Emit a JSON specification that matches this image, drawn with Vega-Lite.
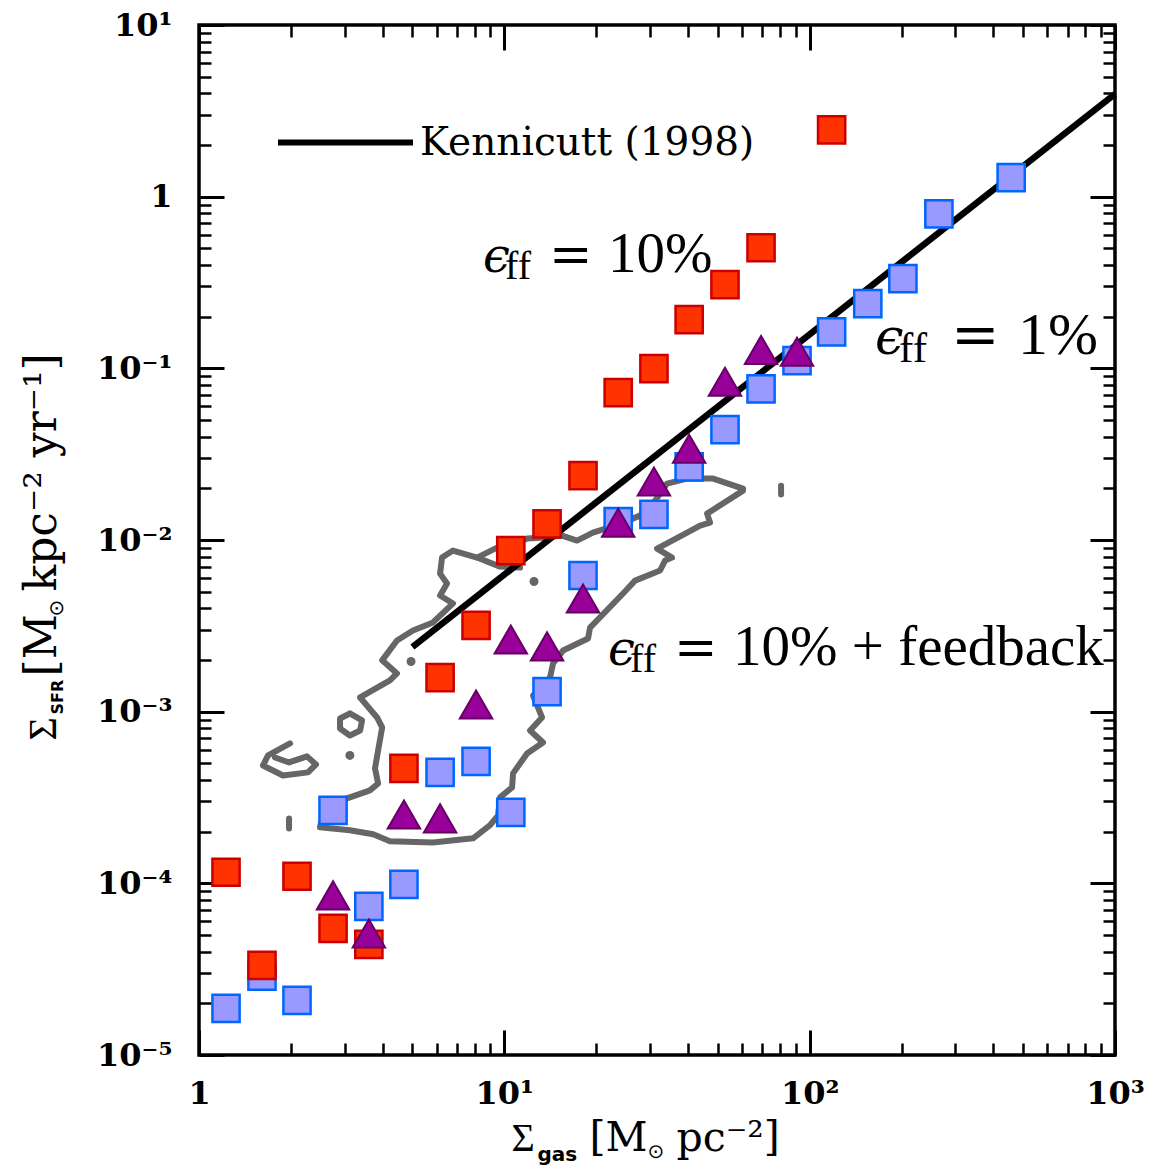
{
  "$schema": "https://vega.github.io/schema/vega-lite/v6.json",
  "width": 916,
  "height": 1030,
  "autosize": {"type": "none"},
  "padding": {"left": 199, "top": 25, "right": 45, "bottom": 112},
  "background": "white",
  "config": {
    "view": {"stroke": "black", "strokeWidth": 3.5},
    "axis": {"domain": false, "grid": false, "tickColor": "black", "labelColor": "black", "titleColor": "black"}
  },
  "datasets": {
    "contour": [
      {"piece": "main", "i": 1, "sgas": 60.5, "ssfr": 0.0199},
      {"piece": "main", "i": 2, "sgas": 48.3, "ssfr": 0.02278},
      {"piece": "main", "i": 3, "sgas": 39.7, "ssfr": 0.02278},
      {"piece": "main", "i": 4, "sgas": 34.1, "ssfr": 0.0213},
      {"piece": "main", "i": 5, "sgas": 31.2, "ssfr": 0.01696},
      {"piece": "main", "i": 6, "sgas": 27.8, "ssfr": 0.01387},
      {"piece": "main", "i": 7, "sgas": 23.6, "ssfr": 0.01229},
      {"piece": "main", "i": 8, "sgas": 19.5, "ssfr": 0.01104},
      {"piece": "main", "i": 9, "sgas": 17.3, "ssfr": 0.00992},
      {"piece": "main", "i": 10, "sgas": 15.45, "ssfr": 0.01061},
      {"piece": "main", "i": 11, "sgas": 13.6, "ssfr": 0.01033},
      {"piece": "main", "i": 12, "sgas": 11.87, "ssfr": 0.01019},
      {"piece": "main", "i": 13, "sgas": 10.6, "ssfr": 0.00928},
      {"piece": "main", "i": 14, "sgas": 9.465, "ssfr": 0.00903},
      {"piece": "main", "i": 15, "sgas": 8.14, "ssfr": 0.0079},
      {"piece": "main", "i": 16, "sgas": 6.79, "ssfr": 0.00868},
      {"piece": "main", "i": 17, "sgas": 6.25, "ssfr": 0.0079},
      {"piece": "main", "i": 18, "sgas": 6.16, "ssfr": 0.00637},
      {"piece": "main", "i": 19, "sgas": 6.49, "ssfr": 0.00558},
      {"piece": "main", "i": 20, "sgas": 6.16, "ssfr": 0.00475},
      {"piece": "main", "i": 21, "sgas": 6.79, "ssfr": 0.00427},
      {"piece": "main", "i": 22, "sgas": 5.84, "ssfr": 0.00331},
      {"piece": "main", "i": 23, "sgas": 5.02, "ssfr": 0.00297},
      {"piece": "main", "i": 24, "sgas": 4.45, "ssfr": 0.0026},
      {"piece": "main", "i": 25, "sgas": 3.98, "ssfr": 0.00199},
      {"piece": "main", "i": 26, "sgas": 4.45, "ssfr": 0.00167},
      {"piece": "main", "i": 27, "sgas": 4.22, "ssfr": 0.00152},
      {"piece": "main", "i": 28, "sgas": 3.37, "ssfr": 0.00121},
      {"piece": "main", "i": 29, "sgas": 3.83, "ssfr": 0.000925},
      {"piece": "main", "i": 30, "sgas": 3.98, "ssfr": 0.000809},
      {"piece": "main", "i": 31, "sgas": 3.86, "ssfr": 0.000594},
      {"piece": "main", "i": 32, "sgas": 3.77, "ssfr": 0.000467},
      {"piece": "main", "i": 33, "sgas": 3.86, "ssfr": 0.000382},
      {"piece": "main", "i": 34, "sgas": 3.63, "ssfr": 0.000348},
      {"piece": "main", "i": 35, "sgas": 3.12, "ssfr": 0.000317},
      {"piece": "main", "i": 36, "sgas": 2.59, "ssfr": 0.000284},
      {"piece": "main", "i": 37, "sgas": 2.49, "ssfr": 0.000212},
      {"piece": "main", "i": 38, "sgas": 3.12, "ssfr": 0.000204},
      {"piece": "main", "i": 39, "sgas": 3.72, "ssfr": 0.000193},
      {"piece": "main", "i": 40, "sgas": 4.22, "ssfr": 0.000176},
      {"piece": "main", "i": 41, "sgas": 5.84, "ssfr": 0.000173},
      {"piece": "main", "i": 42, "sgas": 7.9, "ssfr": 0.000183},
      {"piece": "main", "i": 43, "sgas": 8.98, "ssfr": 0.000218},
      {"piece": "main", "i": 44, "sgas": 9.54, "ssfr": 0.000249},
      {"piece": "main", "i": 45, "sgas": 9.68, "ssfr": 0.000317},
      {"piece": "main", "i": 46, "sgas": 10.6, "ssfr": 0.000362},
      {"piece": "main", "i": 47, "sgas": 10.68, "ssfr": 0.000437},
      {"piece": "main", "i": 48, "sgas": 11.87, "ssfr": 0.000571},
      {"piece": "main", "i": 49, "sgas": 13.39, "ssfr": 0.000662},
      {"piece": "main", "i": 50, "sgas": 12.14, "ssfr": 0.000777},
      {"piece": "main", "i": 51, "sgas": 13.29, "ssfr": 0.000925},
      {"piece": "main", "i": 52, "sgas": 12.42, "ssfr": 0.00124},
      {"piece": "main", "i": 53, "sgas": 14.11, "ssfr": 0.00158},
      {"piece": "main", "i": 54, "sgas": 14.44, "ssfr": 0.00191},
      {"piece": "main", "i": 55, "sgas": 15.57, "ssfr": 0.00227},
      {"piece": "main", "i": 56, "sgas": 18.8, "ssfr": 0.00267},
      {"piece": "main", "i": 57, "sgas": 19.09, "ssfr": 0.00309},
      {"piece": "main", "i": 58, "sgas": 24.48, "ssfr": 0.00488},
      {"piece": "main", "i": 59, "sgas": 26.8, "ssfr": 0.0058},
      {"piece": "main", "i": 60, "sgas": 32.36, "ssfr": 0.00664},
      {"piece": "main", "i": 61, "sgas": 33.6, "ssfr": 0.00759},
      {"piece": "main", "i": 62, "sgas": 35.42, "ssfr": 0.0079},
      {"piece": "main", "i": 63, "sgas": 31.64, "ssfr": 0.00891},
      {"piece": "main", "i": 64, "sgas": 39.7, "ssfr": 0.01104},
      {"piece": "main", "i": 65, "sgas": 43.75, "ssfr": 0.01213},
      {"piece": "main", "i": 66, "sgas": 47.19, "ssfr": 0.01263},
      {"piece": "main", "i": 67, "sgas": 46.13, "ssfr": 0.01424},
      {"piece": "main", "i": 68, "sgas": 60.5, "ssfr": 0.01939},
      {"piece": "main", "i": 69, "sgas": 60.5, "ssfr": 0.0199},
      {"piece": "spur", "i": 1, "sgas": 8.14, "ssfr": 0.0079},
      {"piece": "spur", "i": 2, "sgas": 9.68, "ssfr": 0.007},
      {"piece": "spur", "i": 3, "sgas": 11.26, "ssfr": 0.00691},
      {"piece": "hook", "i": 1, "sgas": 1.987, "ssfr": 0.000653},
      {"piece": "hook", "i": 2, "sgas": 1.683, "ssfr": 0.000556},
      {"piece": "hook", "i": 3, "sgas": 1.62, "ssfr": 0.000486},
      {"piece": "hook", "i": 4, "sgas": 1.884, "ssfr": 0.000425},
      {"piece": "hook", "i": 5, "sgas": 2.275, "ssfr": 0.000443},
      {"piece": "hook", "i": 6, "sgas": 2.416, "ssfr": 0.000493},
      {"piece": "hook", "i": 7, "sgas": 2.258, "ssfr": 0.000549},
      {"piece": "hook", "i": 8, "sgas": 1.972, "ssfr": 0.000506},
      {"piece": "hook", "i": 9, "sgas": 1.774, "ssfr": 0.000541},
      {"piece": "loop", "i": 1, "sgas": 3.12, "ssfr": 0.000976},
      {"piece": "loop", "i": 2, "sgas": 3.42, "ssfr": 0.000889},
      {"piece": "loop", "i": 3, "sgas": 3.37, "ssfr": 0.000777},
      {"piece": "loop", "i": 4, "sgas": 3.12, "ssfr": 0.000727},
      {"piece": "loop", "i": 5, "sgas": 2.896, "ssfr": 0.000798},
      {"piece": "loop", "i": 6, "sgas": 2.896, "ssfr": 0.000913},
      {"piece": "loop", "i": 7, "sgas": 3.12, "ssfr": 0.000976},
      {"piece": "tickA", "i": 1, "sgas": 1.972, "ssfr": 0.000239},
      {"piece": "tickA", "i": 2, "sgas": 1.972, "ssfr": 0.000209},
      {"piece": "tickB", "i": 1, "sgas": 80.6, "ssfr": 0.02073},
      {"piece": "tickB", "i": 2, "sgas": 80.6, "ssfr": 0.01838}
    ],
    "blobs": [
      {"sgas": 3.12, "ssfr": 0.000556},
      {"sgas": 4.948, "ssfr": 0.00196},
      {"sgas": 12.51, "ssfr": 0.00573}
    ],
    "kennicutt": [
      {"name": "Kennicutt (1998)", "sgas": 5, "ssfr": 0.00238},
      {"name": "Kennicutt (1998)", "sgas": 1000, "ssfr": 3.96}
    ],
    "runs": [
      {"run": "eff10", "sgas": 1.226, "ssfr": 0.000116},
      {"run": "eff10", "sgas": 1.608, "ssfr": 0.0000333},
      {"run": "eff10", "sgas": 2.094, "ssfr": 0.00011},
      {"run": "eff10", "sgas": 2.748, "ssfr": 0.0000547},
      {"run": "eff10", "sgas": 3.6, "ssfr": 0.0000441},
      {"run": "eff10", "sgas": 4.69, "ssfr": 0.000467},
      {"run": "eff10", "sgas": 6.16, "ssfr": 0.00158},
      {"run": "eff10", "sgas": 8.08, "ssfr": 0.00318},
      {"run": "eff10", "sgas": 10.5, "ssfr": 0.00867},
      {"run": "eff10", "sgas": 13.8, "ssfr": 0.0124},
      {"run": "eff10", "sgas": 18.1, "ssfr": 0.0237},
      {"run": "eff10", "sgas": 23.6, "ssfr": 0.0721},
      {"run": "eff10", "sgas": 30.9, "ssfr": 0.0995},
      {"run": "eff10", "sgas": 40.3, "ssfr": 0.192},
      {"run": "eff10", "sgas": 52.8, "ssfr": 0.307},
      {"run": "eff10", "sgas": 69.3, "ssfr": 0.504},
      {"run": "eff10", "sgas": 118, "ssfr": 2.45},
      {"run": "eff1", "sgas": 1.226, "ssfr": 0.0000187},
      {"run": "eff1", "sgas": 1.608, "ssfr": 0.0000288},
      {"run": "eff1", "sgas": 2.094, "ssfr": 0.0000208},
      {"run": "eff1", "sgas": 2.748, "ssfr": 0.000266},
      {"run": "eff1", "sgas": 3.6, "ssfr": 0.0000735},
      {"run": "eff1", "sgas": 4.69, "ssfr": 0.0000986},
      {"run": "eff1", "sgas": 6.16, "ssfr": 0.000443},
      {"run": "eff1", "sgas": 8.08, "ssfr": 0.000513},
      {"run": "eff1", "sgas": 10.5, "ssfr": 0.000259},
      {"run": "eff1", "sgas": 13.8, "ssfr": 0.00131},
      {"run": "eff1", "sgas": 18.1, "ssfr": 0.00621},
      {"run": "eff1", "sgas": 23.6, "ssfr": 0.0128},
      {"run": "eff1", "sgas": 30.9, "ssfr": 0.0141},
      {"run": "eff1", "sgas": 40.3, "ssfr": 0.0267},
      {"run": "eff1", "sgas": 52.8, "ssfr": 0.0439},
      {"run": "eff1", "sgas": 69.3, "ssfr": 0.076},
      {"run": "eff1", "sgas": 90.9, "ssfr": 0.111},
      {"run": "eff1", "sgas": 118, "ssfr": 0.163},
      {"run": "eff1", "sgas": 155, "ssfr": 0.238},
      {"run": "eff1", "sgas": 202, "ssfr": 0.333},
      {"run": "eff1", "sgas": 265, "ssfr": 0.794},
      {"run": "eff1", "sgas": 457, "ssfr": 1.29},
      {"run": "fb", "sgas": 2.748, "ssfr": 0.0000851},
      {"run": "fb", "sgas": 3.6, "ssfr": 0.000051},
      {"run": "fb", "sgas": 4.69, "ssfr": 0.000252},
      {"run": "fb", "sgas": 6.16, "ssfr": 0.000239},
      {"run": "fb", "sgas": 8.08, "ssfr": 0.0011},
      {"run": "fb", "sgas": 10.5, "ssfr": 0.00263},
      {"run": "fb", "sgas": 13.8, "ssfr": 0.0024},
      {"run": "fb", "sgas": 18.1, "ssfr": 0.00456},
      {"run": "fb", "sgas": 23.6, "ssfr": 0.0126},
      {"run": "fb", "sgas": 30.9, "ssfr": 0.0219},
      {"run": "fb", "sgas": 40.3, "ssfr": 0.034},
      {"run": "fb", "sgas": 52.8, "ssfr": 0.0835},
      {"run": "fb", "sgas": 69.3, "ssfr": 0.128},
      {"run": "fb", "sgas": 90.9, "ssfr": 0.125}
    ],
    "notes": [
      {"sgas": 8.516, "ssfr": 0.3636, "val": "10%"},
      {"sgas": 163.8, "ssfr": 0.121, "val": "1%"},
      {"sgas": 21.86, "ssfr": 0.001864, "val": "10% + feedback"}
    ]
  },
  "resolve": {"axis": {"x": "independent", "y": "independent"}},
  "layer": [
    {
      "data": {"name": "contour"},
      "mark": {"type": "line", "stroke": "#666666", "strokeWidth": 6, "strokeJoin": "round", "strokeCap": "round"},
      "encoding": {
        "x": {
          "field": "sgas", "type": "quantitative",
          "scale": {"type": "log", "domain": [1, 1000], "nice": false},
          "axis": {
            "orient": "bottom", "values": [1, 10, 100, 1000], "ticks": false,
            "labelExpr": "datum.value >= 500 ? '10³' : datum.value >= 50 ? '10²' : datum.value >= 5 ? '10¹' : '1'",
            "labelFont": "DejaVu Serif", "labelFontWeight": "bold", "labelFontSize": 32,
            "labelPadding": 23, "labelFlush": false, "labelOverlap": false, "labelBaseline": "top",
            "title": "Σ", "titleFont": "Liberation Serif", "titleFontSize": 40, "titleFontWeight": "normal",
            "titleX": 312, "titleY": 95, "titleAlign": "left", "titleBaseline": "alphabetic", "titleAngle": 0
          }
        },
        "y": {
          "field": "ssfr", "type": "quantitative",
          "scale": {"type": "log", "domain": [0.00001, 10], "nice": false},
          "axis": {
            "orient": "left", "values": [0.00001, 0.0001, 0.001, 0.01, 0.1, 1, 10], "ticks": false,
            "labelExpr": "datum.value >= 5 ? '10¹' : datum.value >= 0.5 ? '1' : datum.value >= 0.05 ? '10⁻¹' : datum.value >= 0.005 ? '10⁻²' : datum.value >= 0.0005 ? '10⁻³' : datum.value >= 0.00005 ? '10⁻⁴' : '10⁻⁵'",
            "labelFont": "DejaVu Serif", "labelFontWeight": "bold", "labelFontSize": 32,
            "labelPadding": 27, "labelAlign": "right", "labelBaseline": "middle", "labelFlush": false, "labelOverlap": false,
            "title": "Σ", "titleFont": "Liberation Serif", "titleFontSize": 40, "titleFontWeight": "normal",
            "titleX": -144, "titleY": 715, "titleAlign": "left", "titleBaseline": "alphabetic", "titleAngle": 270
          }
        },
        "detail": {"field": "piece", "type": "nominal"},
        "order": {"field": "i", "type": "quantitative"}
      }
    },
    {
      "data": {"name": "blobs"},
      "mark": {"type": "point", "shape": "circle", "filled": true, "fill": "#666666", "fillOpacity": 1, "size": 80, "strokeWidth": 0},
      "encoding": {
        "x": {"field": "sgas", "type": "quantitative", "scale": {"type": "log", "domain": [1, 1000], "nice": false}, "axis": null},
        "y": {"field": "ssfr", "type": "quantitative", "scale": {"type": "log", "domain": [0.00001, 10], "nice": false}, "axis": null}
      }
    },
    {
      "data": {"name": "kennicutt"},
      "mark": {"type": "line", "strokeWidth": 6.5, "strokeCap": "butt"},
      "encoding": {
        "x": {
          "field": "sgas", "type": "quantitative",
          "scale": {"type": "log", "domain": [1, 1000], "nice": false},
          "axis": {
            "orient": "bottom", "offset": -25, "values": [1, 10, 100, 1000], "labels": false,
            "tickSize": 25, "tickWidth": 3,
            "title": "gas", "titleFont": "DejaVu Sans", "titleFontSize": 20, "titleFontWeight": "bold",
            "titleX": 338, "titleY": 130, "titleAlign": "left", "titleBaseline": "alphabetic", "titleAngle": 0
          }
        },
        "y": {
          "field": "ssfr", "type": "quantitative",
          "scale": {"type": "log", "domain": [0.00001, 10], "nice": false},
          "axis": {
            "orient": "left", "offset": -25, "values": [0.00001, 0.0001, 0.001, 0.01, 0.1, 1, 10], "labels": false,
            "tickSize": 25, "tickWidth": 3,
            "title": "SFR", "titleFont": "DejaVu Sans", "titleFontSize": 16, "titleFontWeight": "bold",
            "titleX": -162, "titleY": 689, "titleAlign": "left", "titleBaseline": "alphabetic", "titleAngle": 270
          }
        },
        "color": {
          "field": "name", "type": "nominal",
          "scale": {"range": ["#000000"]},
          "legend": {
            "orient": "none", "legendX": 76, "legendY": 47, "title": null, "padding": 0,
            "symbolType": "stroke", "symbolSize": 18225, "symbolStrokeWidth": 6, "symbolStrokeColor": "black",
            "labelFont": "DejaVu Serif", "labelFontSize": 39, "labelColor": "black", "labelOffset": 4, "labelLimit": 600
          }
        }
      }
    },
    {
      "data": {"name": "runs"},
      "transform": [{"filter": "datum.run === 'eff1'"}],
      "mark": {"type": "point", "shape": "square", "size": 740, "filled": true, "fill": "#9999ff", "fillOpacity": 1, "stroke": "#0066ff", "strokeWidth": 2.5, "opacity": 1},
      "encoding": {
        "x": {
          "field": "sgas", "type": "quantitative",
          "scale": {"type": "log", "domain": [1, 1000], "nice": false},
          "axis": {
            "orient": "bottom", "offset": -12,
            "values": [2, 3, 4, 5, 6, 7, 8, 9, 20, 30, 40, 50, 60, 70, 80, 90, 200, 300, 400, 500, 600, 700, 800, 900],
            "labels": false, "tickSize": 12, "tickWidth": 2.5,
            "title": "[M", "titleFont": "DejaVu Serif", "titleFontSize": 41, "titleFontWeight": "normal",
            "titleX": 390, "titleY": 107, "titleAlign": "left", "titleBaseline": "alphabetic", "titleAngle": 0
          }
        },
        "y": {
          "field": "ssfr", "type": "quantitative",
          "scale": {"type": "log", "domain": [0.00001, 10], "nice": false},
          "axis": {
            "orient": "left", "offset": -12,
            "values": [0.00002, 0.00003, 0.00004, 0.00005, 0.00006, 0.00007, 0.00008, 0.00009, 0.0002, 0.0003, 0.0004, 0.0005, 0.0006, 0.0007, 0.0008, 0.0009, 0.002, 0.003, 0.004, 0.005, 0.006, 0.007, 0.008, 0.009, 0.02, 0.03, 0.04, 0.05, 0.06, 0.07, 0.08, 0.09, 0.2, 0.3, 0.4, 0.5, 0.6, 0.7, 0.8, 0.9, 2, 3, 4, 5, 6, 7, 8, 9],
            "labels": false, "tickSize": 12, "tickWidth": 2.5,
            "title": "[M", "titleFont": "DejaVu Serif", "titleFontSize": 44, "titleFontWeight": "normal",
            "titleX": -156, "titleY": 651, "titleAlign": "left", "titleBaseline": "alphabetic", "titleAngle": 270
          }
        }
      }
    },
    {
      "data": {"name": "runs"},
      "transform": [{"filter": "datum.run === 'eff10'"}],
      "mark": {"type": "point", "shape": "square", "size": 740, "filled": true, "fill": "#ff3300", "fillOpacity": 1, "stroke": "#cc0000", "strokeWidth": 2.5, "opacity": 1},
      "encoding": {
        "x": {
          "field": "sgas", "type": "quantitative",
          "scale": {"type": "log", "domain": [1, 1000], "nice": false},
          "axis": {
            "orient": "top", "offset": -25, "values": [1, 10, 100, 1000], "labels": false,
            "tickSize": 25, "tickWidth": 3,
            "title": "⊙", "titleFont": "DejaVu Sans", "titleFontSize": 20, "titleFontWeight": "normal",
            "titleX": 448, "titleY": 1107, "titleAlign": "left", "titleBaseline": "alphabetic", "titleAngle": 0
          }
        },
        "y": {
          "field": "ssfr", "type": "quantitative",
          "scale": {"type": "log", "domain": [0.00001, 10], "nice": false},
          "axis": {
            "orient": "right", "offset": -25, "values": [0.00001, 0.0001, 0.001, 0.01, 0.1, 1, 10], "labels": false,
            "tickSize": 25, "tickWidth": 3,
            "title": "⊙", "titleFont": "DejaVu Sans", "titleFontSize": 20, "titleFontWeight": "normal",
            "titleX": -1028, "titleY": 591, "titleAlign": "left", "titleBaseline": "alphabetic", "titleAngle": 270
          }
        }
      }
    },
    {
      "data": {"name": "runs"},
      "transform": [{"filter": "datum.run === 'fb'"}],
      "mark": {"type": "point", "shape": "triangle-up", "size": 1050, "filled": true, "fill": "#990099", "fillOpacity": 1, "stroke": "#660066", "strokeWidth": 2, "opacity": 1},
      "encoding": {
        "x": {
          "field": "sgas", "type": "quantitative",
          "scale": {"type": "log", "domain": [1, 1000], "nice": false},
          "axis": {
            "orient": "top", "offset": -12,
            "values": [2, 3, 4, 5, 6, 7, 8, 9, 20, 30, 40, 50, 60, 70, 80, 90, 200, 300, 400, 500, 600, 700, 800, 900],
            "labels": false, "tickSize": 12, "tickWidth": 2.5,
            "title": "pc⁻²]", "titleFont": "DejaVu Serif", "titleFontSize": 41, "titleFontWeight": "normal",
            "titleX": 477, "titleY": 1113, "titleAlign": "left", "titleBaseline": "alphabetic", "titleAngle": 0
          }
        },
        "y": {
          "field": "ssfr", "type": "quantitative",
          "scale": {"type": "log", "domain": [0.00001, 10], "nice": false},
          "axis": {
            "orient": "right", "offset": -12,
            "values": [0.00002, 0.00003, 0.00004, 0.00005, 0.00006, 0.00007, 0.00008, 0.00009, 0.0002, 0.0003, 0.0004, 0.0005, 0.0006, 0.0007, 0.0008, 0.0009, 0.002, 0.003, 0.004, 0.005, 0.006, 0.007, 0.008, 0.009, 0.02, 0.03, 0.04, 0.05, 0.06, 0.07, 0.08, 0.09, 0.2, 0.3, 0.4, 0.5, 0.6, 0.7, 0.8, 0.9, 2, 3, 4, 5, 6, 7, 8, 9],
            "labels": false, "tickSize": 12, "tickWidth": 2.5,
            "title": "kpc⁻² yr⁻¹]", "titleFont": "DejaVu Serif", "titleFontSize": 44, "titleFontWeight": "normal",
            "titleX": -1048, "titleY": 566, "titleAlign": "left", "titleBaseline": "alphabetic", "titleAngle": 270
          }
        }
      }
    },
    {
      "data": {"name": "notes"},
      "transform": [{"filter": "datum.val !== '1%'"}],
      "mark": {"type": "text", "text": "ϵ", "font": "DejaVu Serif", "fontStyle": "italic", "fontSize": 48, "align": "left", "baseline": "alphabetic", "color": "black"},
      "encoding": {
        "x": {"field": "sgas", "type": "quantitative", "scale": {"type": "log", "domain": [1, 1000], "nice": false}, "axis": null},
        "y": {"field": "ssfr", "type": "quantitative", "scale": {"type": "log", "domain": [0.00001, 10], "nice": false}, "axis": null}
      }
    },
    {
      "data": {"name": "notes"},
      "transform": [{"filter": "datum.val !== '1%'"}],
      "mark": {"type": "text", "text": "ff", "font": "Liberation Serif", "fontSize": 40, "align": "left", "baseline": "alphabetic", "dx": 22, "dy": 7, "color": "black"},
      "encoding": {
        "x": {"field": "sgas", "type": "quantitative", "scale": {"type": "log", "domain": [1, 1000], "nice": false}, "axis": null},
        "y": {"field": "ssfr", "type": "quantitative", "scale": {"type": "log", "domain": [0.00001, 10], "nice": false}, "axis": null}
      }
    },
    {
      "data": {"name": "notes"},
      "transform": [{"filter": "datum.val !== '1%'"}],
      "mark": {"type": "text", "text": "=", "font": "DejaVu Serif", "fontSize": 52, "align": "left", "baseline": "alphabetic", "dx": 66, "color": "black"},
      "encoding": {
        "x": {"field": "sgas", "type": "quantitative", "scale": {"type": "log", "domain": [1, 1000], "nice": false}, "axis": null},
        "y": {"field": "ssfr", "type": "quantitative", "scale": {"type": "log", "domain": [0.00001, 10], "nice": false}, "axis": null}
      }
    },
    {
      "data": {"name": "notes"},
      "transform": [{"filter": "datum.val !== '1%'"}],
      "mark": {"type": "text", "font": "Liberation Serif", "fontSize": 57, "align": "left", "baseline": "alphabetic", "dx": 125, "color": "black"},
      "encoding": {
        "x": {"field": "sgas", "type": "quantitative", "scale": {"type": "log", "domain": [1, 1000], "nice": false}, "axis": null},
        "y": {"field": "ssfr", "type": "quantitative", "scale": {"type": "log", "domain": [0.00001, 10], "nice": false}, "axis": null},
        "text": {"field": "val", "type": "nominal"}
      }
    },
    {
      "data": {"name": "notes"},
      "transform": [{"filter": "datum.val === '1%'"}],
      "mark": {"type": "text", "text": "ϵ", "font": "DejaVu Serif", "fontStyle": "italic", "fontSize": 51, "align": "left", "baseline": "alphabetic", "color": "black"},
      "encoding": {
        "x": {"field": "sgas", "type": "quantitative", "scale": {"type": "log", "domain": [1, 1000], "nice": false}, "axis": null},
        "y": {"field": "ssfr", "type": "quantitative", "scale": {"type": "log", "domain": [0.00001, 10], "nice": false}, "axis": null}
      }
    },
    {
      "data": {"name": "notes"},
      "transform": [{"filter": "datum.val === '1%'"}],
      "mark": {"type": "text", "text": "ff", "font": "Liberation Serif", "fontSize": 43, "align": "left", "baseline": "alphabetic", "dx": 24, "dy": 8, "color": "black"},
      "encoding": {
        "x": {"field": "sgas", "type": "quantitative", "scale": {"type": "log", "domain": [1, 1000], "nice": false}, "axis": null},
        "y": {"field": "ssfr", "type": "quantitative", "scale": {"type": "log", "domain": [0.00001, 10], "nice": false}, "axis": null}
      }
    },
    {
      "data": {"name": "notes"},
      "transform": [{"filter": "datum.val === '1%'"}],
      "mark": {"type": "text", "text": "=", "font": "DejaVu Serif", "fontSize": 58, "align": "left", "baseline": "alphabetic", "dx": 76, "color": "black"},
      "encoding": {
        "x": {"field": "sgas", "type": "quantitative", "scale": {"type": "log", "domain": [1, 1000], "nice": false}, "axis": null},
        "y": {"field": "ssfr", "type": "quantitative", "scale": {"type": "log", "domain": [0.00001, 10], "nice": false}, "axis": null}
      }
    },
    {
      "data": {"name": "notes"},
      "transform": [{"filter": "datum.val === '1%'"}],
      "mark": {"type": "text", "font": "Liberation Serif", "fontSize": 60, "align": "left", "baseline": "alphabetic", "dx": 143, "color": "black"},
      "encoding": {
        "x": {"field": "sgas", "type": "quantitative", "scale": {"type": "log", "domain": [1, 1000], "nice": false}, "axis": null},
        "y": {"field": "ssfr", "type": "quantitative", "scale": {"type": "log", "domain": [0.00001, 10], "nice": false}, "axis": null},
        "text": {"field": "val", "type": "nominal"}
      }
    }
  ]
}
